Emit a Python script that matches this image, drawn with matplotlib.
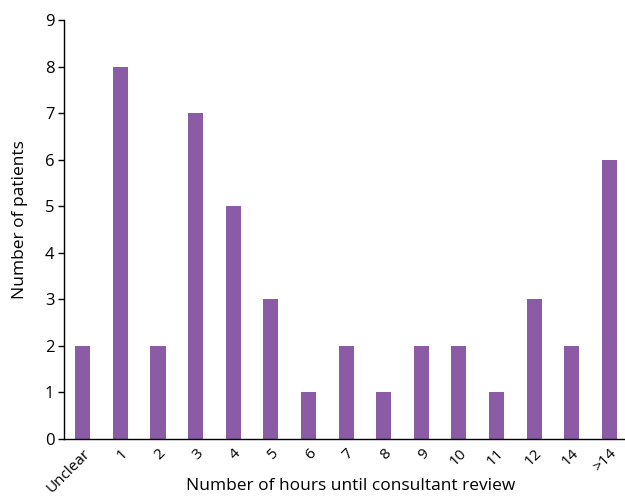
import matplotlib
matplotlib.use("Agg")
import matplotlib.pyplot as plt

categories = ["Unclear", "1", "2", "3", "4", "5", "6", "7", "8", "9", "10", "11", "12", "14", ">14"]
patients = [2, 8, 2, 7, 5, 3, 1, 2, 1, 2, 2, 1, 3, 2, 6]

plt.rcParams['font.family'] = ['Open Sans', 'DejaVu Sans']

fig = plt.figure(figsize=(6.25, 4.97), dpi=100)
ax = fig.add_axes([64/625, 1 - 439/497, 1 - 64/625 + 0.005, (439 - 20)/497])
x = list(range(len(categories)))
ax.bar(x, patients, width=0.4, color="#8B5BA5")
ax.set_xlim(-0.5, 14.5)
ax.set_ylim(0, 9)
ax.set_yticks(range(0, 10))
ax.set_xticks(x)
ax.set_xticklabels(categories, rotation=45, ha="right", rotation_mode="anchor", fontsize=11)
ax.tick_params(axis="x", length=0, pad=5)
ax.tick_params(axis="y", length=4, width=1, labelsize=12, pad=3)
for s in ["top", "right"]:
    ax.spines[s].set_visible(False)
ax.spines["left"].set_linewidth(1)
ax.spines["bottom"].set_linewidth(1)
ax.set_xlabel("Number of hours until consultant review", fontsize=12.5, va="center")
ax.xaxis.set_label_coords((349 - 64) / 561, -(486 - 439) / 419)
ax.set_ylabel("Number of patients", fontsize=12.5, va="center")
ax.yaxis.set_label_coords(-(64 - 20) / 561, (439 - 220) / 419)
fig.savefig("out.png", dpi=100)
